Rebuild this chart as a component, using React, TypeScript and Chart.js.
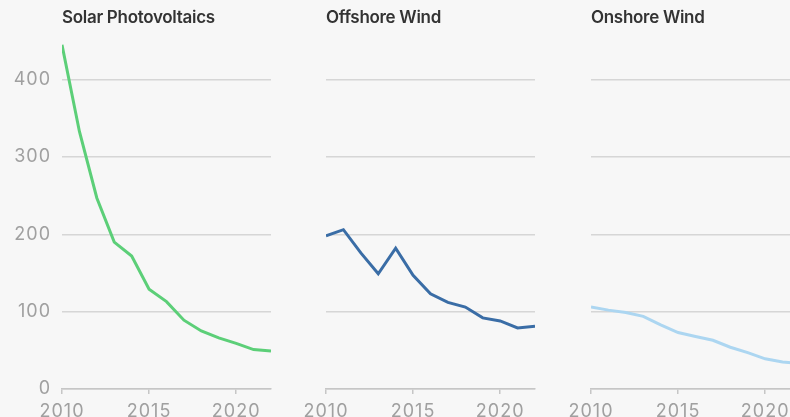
import React, { useEffect, useRef } from "react";
import { Chart, registerables } from "chart.js";

Chart.register(...registerables);

const years = [2010, 2011, 2012, 2013, 2014, 2015, 2016, 2017, 2018, 2019, 2020, 2021, 2022];
const solarPV = [445, 333, 247, 190, 172, 129, 113, 89, 75, 66, 59, 51, 49];
const offshoreWind = [198, 206, 176, 149, 182, 147, 123, 112, 106, 92, 88, 79, 81];
const onshoreWind = [106, 102, 99, 94, 83, 73, 68, 63, 54, 47, 39, 35, 33];
const yTicks = [0, 100, 200, 300, 400];
const xTicks = [2010, 2015, 2020];

const panels = [
  { title: "Solar Photovoltaics", values: solarPV, color: "#5ccf78", showY: true, left: 0 },
  { title: "Offshore Wind", values: offshoreWind, color: "#3a6da6", showY: false, left: 264 },
  { title: "Onshore Wind", values: onshoreWind, color: "#acd6f1", showY: false, left: 529 },
];

const FONT = "Inter, 'Noto Sans', sans-serif";
const CANVAS_W = 290;
const CANVAS_H = 417;

const letterSpacingPlugin = {
  id: "letterSpacing",
  beforeDraw: (chart: any) => {
    try {
      chart.ctx.letterSpacing = "1px";
    } catch (e) {}
  },
};

function Panel({ values, color, showY }: { values: number[]; color: string; showY: boolean }) {
  const ref = useRef<HTMLCanvasElement | null>(null);
  useEffect(() => {
    if (!ref.current) return;
    const chart = new Chart(ref.current, {
      type: "line",
      data: {
        datasets: [
          {
            data: years.map((x, i) => ({ x, y: values[i] })),
            borderColor: color,
            borderWidth: 3,
            pointRadius: 0,
            tension: 0,
            fill: false,
          },
        ],
      },
      plugins: [letterSpacingPlugin],
      options: {
        responsive: false,
        maintainAspectRatio: false,
        animation: false,
        layout: { padding: { left: 0, right: CANVAS_W - 271, top: 41, bottom: 0 } },
        plugins: { legend: { display: false }, tooltip: { enabled: false } },
        scales: {
          x: {
            type: "linear",
            min: 2010,
            max: 2022,
            afterBuildTicks: (s: any) => {
              s.ticks = xTicks.map((v) => ({ value: v }));
            },
            afterFit: (s: any) => {
              s.height = 28;
            },
            ticks: {
              color: "#a0a0a0",
              font: { family: FONT, size: 18 },
              padding: 7,
              maxRotation: 0,
              autoSkip: false,
              callback: (v: any) => String(v),
            },
            grid: { drawOnChartArea: false, drawTicks: true, tickLength: 5, color: "#c6c6c6", lineWidth: 1.5 },
            border: { display: true, color: "#c6c6c6", width: 1.5 },
          },
          y: {
            min: 0,
            max: 450,
            afterBuildTicks: (s: any) => {
              s.ticks = yTicks.map((v) => ({ value: v }));
            },
            afterFit: (s: any) => {
              s.width = 62;
            },
            ticks: {
              color: showY ? "#a0a0a0" : "rgba(0,0,0,0)",
              font: { family: FONT, size: 18 },
              padding: 11,
            },
            grid: { drawTicks: false, color: "#d6d6d6", lineWidth: 1.5 },
            border: { display: false },
          },
        },
      } as any,
    });
    return () => chart.destroy();
  }, [values, color, showY]);
  return <canvas ref={ref} width={CANVAS_W} height={CANVAS_H} style={{ width: CANVAS_W, height: CANVAS_H, display: "block" }} />;
}

export default function App() {
  return (
    <div
      style={{
        position: "fixed",
        left: 0,
        top: 0,
        width: 790,
        height: 417,
        background: "#f7f7f7",
        overflow: "hidden",
      }}
    >
      {panels.map((p) => (
        <div key={p.title} style={{ position: "absolute", left: p.left, top: 0, width: CANVAS_W, height: CANVAS_H }}>
          <Panel values={p.values} color={p.color} showY={p.showY} />
          <div
            style={{
              position: "absolute",
              left: 62,
              top: 9,
              fontFamily: FONT,
              fontSize: 17,
              fontWeight: 600,
              letterSpacing: "-0.3px",
              lineHeight: 1,
              color: "#333333",
              whiteSpace: "nowrap",
            }}
          >
            {p.title}
          </div>
        </div>
      ))}
    </div>
  );
}
